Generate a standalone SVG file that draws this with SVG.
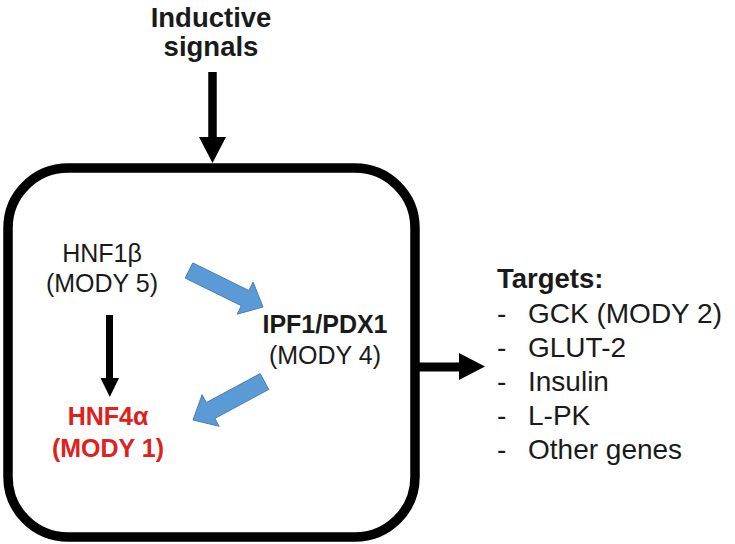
<svg xmlns="http://www.w3.org/2000/svg" width="735" height="544" viewBox="0 0 735 544">
<style>
text{font-family:"Liberation Sans",Arial,sans-serif;fill:#1a1a1a}
.b{font-weight:bold}
.c{text-anchor:middle}
.red{fill:#E0201B}
.blue{fill:#5B9BD5;stroke:#4A7EB5;stroke-width:1}
.shaft{stroke:#000;fill:none}
.head{fill:#000}
</style>
<rect width="735" height="544" fill="#fff"/>
<g id="box">
<rect x="8" y="168" width="407" height="369" rx="60" ry="60" fill="none" stroke="#000" stroke-width="9.5"/>
</g>
<g id="inductive-signals">
<text class="b c" x="211" y="27" font-size="27.5">Inductive</text>
<text class="b c" x="211" y="56" font-size="27.5">signals</text>
</g>
<g id="hnf1b">
<text class="c" x="102" y="262" font-size="25">HNF1β</text>
<text class="c" x="102" y="292" font-size="25">(MODY 5)</text>
</g>
<g id="ipf1">
<text class="b c" x="325" y="333" font-size="25">IPF1/PDX1</text>
<text class="c" x="325" y="364" font-size="25">(MODY 4)</text>
</g>
<g id="hnf4a">
<text class="b c red" x="108" y="425" font-size="25">HNF4α</text>
<text class="b c red" x="108" y="457" font-size="25">(MODY 1)</text>
</g>
<g id="targets">
<text class="b" x="497" y="288" font-size="27.5">Targets:</text>
<text x="497" y="323" font-size="28">-</text><text x="528" y="323" font-size="28">GCK (MODY 2)</text>
<text x="497" y="357" font-size="28">-</text><text x="528" y="357" font-size="28">GLUT-2</text>
<text x="497" y="391" font-size="28">-</text><text x="528" y="391" font-size="28">Insulin</text>
<text x="497" y="425" font-size="28">-</text><text x="528" y="425" font-size="28">L-PK</text>
<text x="497" y="459" font-size="28">-</text><text x="528" y="459" font-size="28">Other genes</text>
</g>
<g id="connectors">
<line class="shaft" x1="212.5" y1="72" x2="212.5" y2="138" stroke-width="8.5"/>
<polygon class="head" points="199,137 226,137 212.5,163"/>
<line class="shaft" x1="109.5" y1="315" x2="109.5" y2="379" stroke-width="7"/>
<polygon class="head" points="100.5,378 119,378 109.8,397"/>
<line class="shaft" x1="415" y1="367" x2="460" y2="367" stroke-width="9"/>
<polygon class="head" points="459,353 459,380 485,366.5"/>
<polygon class="blue" points="192.8,262.9 248.9,290.5 253.1,282 263,307 237.1,314.2 241.3,305.7 185.2,278.1"/>
<polygon class="blue" points="260.2,373.6 268.8,389.4 214.9,418.4 219.1,426.3 193,420 202.1,394.7 206.3,402.6"/>
</g>
</svg>
